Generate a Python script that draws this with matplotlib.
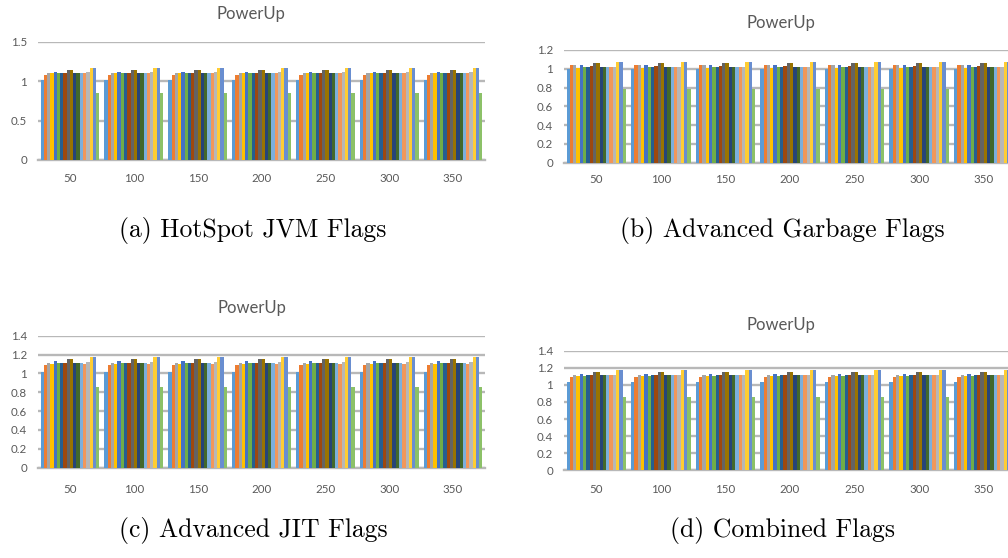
import numpy as np
import matplotlib
matplotlib.use("Agg")
import matplotlib.pyplot as plt

# thread counts on the x axis
threads = [50, 100, 150, 200, 250, 300, 350]

# Office-style palette, one colour per flag series (18 series)
colors = ['#5B9BD5', '#ED7D31', '#A5A5A5', '#FFC000', '#4472C4', '#70AD47',
          '#255E91', '#9E480E', '#636363', '#997300', '#264478', '#43682B',
          '#7CAFDD', '#F1975A', '#B7B7B7', '#FFCD33', '#698ED0', '#8CC168']

# PowerUp per flag series (same reading in every thread group)
powerup_hotspot = [1.02, 1.08, 1.11, 1.10, 1.12, 1.10, 1.11, 1.11, 1.15,
                   1.15, 1.11, 1.11, 1.11, 1.10, 1.12, 1.17, 1.17, 0.85]
powerup_garbage = [1.00, 1.04, 1.045, 1.01, 1.045, 1.02, 1.02, 1.03, 1.065,
                   1.065, 1.02, 1.02, 1.02, 1.02, 1.02, 1.075, 1.07, 0.79]
powerup_jit = [1.01, 1.09, 1.11, 1.10, 1.13, 1.11, 1.11, 1.11, 1.155,
               1.155, 1.11, 1.11, 1.11, 1.10, 1.12, 1.175, 1.17, 0.855]
powerup_combined = [1.03, 1.09, 1.11, 1.10, 1.125, 1.10, 1.115, 1.115, 1.155,
                    1.155, 1.11, 1.11, 1.11, 1.11, 1.12, 1.175, 1.17, 0.855]

captions = ['(a) HotSpot JVM Flags', '(b) Advanced Garbage Flags',
            '(c) Advanced JIT Flags', '(d) Combined Flags']

TXT = '#595959'
GRID = '#B8B8B8'
W, H = 1008, 558


def fx(px):
    return px / W


def fy(py):
    return 1 - py / H


def draw_panel(fig, rect, values, ymax, ystep, xpad, title_xy):
    left, top, right, bottom = rect
    ax = fig.add_axes([fx(left), fy(bottom), fx(right - left), (bottom - top) / H])
    n = len(values)
    cluster = 0.92
    bw = cluster / n
    x = np.arange(len(threads))
    for i, v in enumerate(values):
        offs = -cluster / 2 + bw * (i + 0.5)
        ax.bar(x + offs, [v] * len(threads), width=bw, color=colors[i],
               linewidth=0, zorder=3)
    ax.set_xlim(-0.5, len(threads) - 0.5)
    ax.set_ylim(0, ymax)
    yt = np.arange(0, ymax + ystep / 2, ystep)
    ax.set_yticks(yt)
    ax.set_yticklabels([f'{t:g}' for t in yt])
    ax.set_xticks(x)
    ax.set_xticklabels([str(t) for t in threads])
    ax.grid(axis='y', color=GRID, linewidth=1.7, zorder=0)
    ax.set_axisbelow(True)
    for s in ['left', 'right', 'top']:
        ax.spines[s].set_visible(False)
    ax.spines['bottom'].set_color(GRID)
    ax.spines['bottom'].set_linewidth(1.7)
    ax.tick_params(axis='both', length=0, labelsize=8.3, labelcolor=TXT,
                   labelfontfamily='Lato')
    ax.tick_params(axis='y', pad=8)
    ax.tick_params(axis='x', pad=xpad)
    fig.text(fx(title_xy[0]), fy(title_xy[1]), 'PowerUp', ha='center',
             va='center', fontsize=12, color=TXT, family='Lato')
    return ax


fig = plt.figure(figsize=(10.08, 5.58), dpi=100)

draw_panel(fig, (38, 42, 485, 160), powerup_hotspot, 1.5, 0.5, 9.5, (251, 14))
draw_panel(fig, (564, 50, 1016, 162.7), powerup_garbage, 1.2, 0.2, 8, (781, 23))
draw_panel(fig, (38, 335.7, 485, 467.7), powerup_jit, 1.4, 0.2, 11.5, (252, 308))
draw_panel(fig, (564, 350.7, 1016, 470.3), powerup_combined, 1.4, 0.2, 10, (781, 325))

cap_pos = [(253, 237), (782, 237), (253, 537), (782, 537)]
for (cx, cy), cap in zip(cap_pos, captions):
    fig.text(fx(cx), fy(cy), cap, ha='center', va='baseline',
             fontsize=18.5, family='cmr10', color='black')

fig.savefig('out.png', dpi=100)
